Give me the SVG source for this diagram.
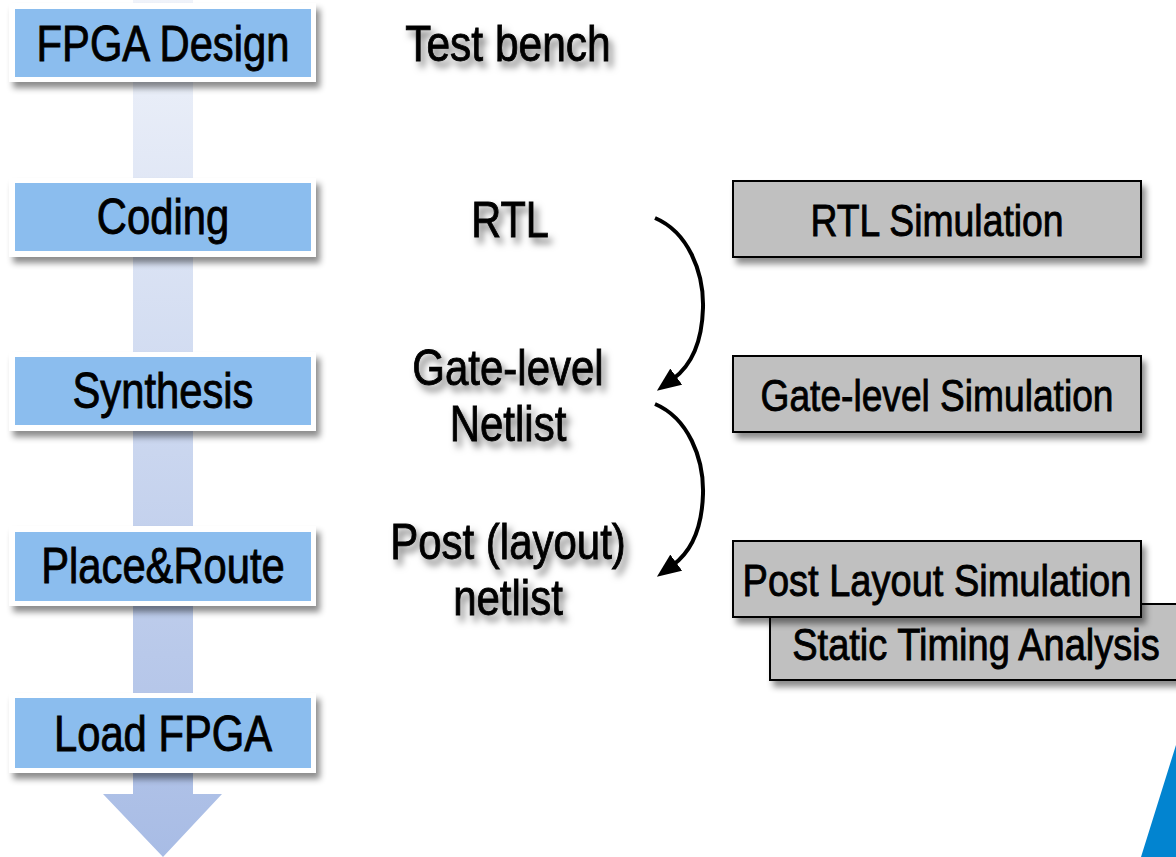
<svg xmlns="http://www.w3.org/2000/svg" width="1176" height="857" viewBox="0 0 1176 857">
  <defs>
    <linearGradient id="flowGrad" x1="0" y1="0" x2="0" y2="1">
      <stop offset="0" stop-color="#f0f3fa"/>
      <stop offset="1" stop-color="#a8bce5"/>
    </linearGradient>
    <filter id="boxShadow" x="-10%" y="-20%" width="125%" height="150%">
      <feDropShadow dx="4" dy="6" stdDeviation="3" flood-color="#000" flood-opacity="0.45"/>
    </filter>
    <filter id="textShadow" x="-10%" y="-20%" width="130%" height="170%">
      <feDropShadow dx="4" dy="6" stdDeviation="3.5" flood-color="#000" flood-opacity="0.5"/>
    </filter>
    <marker id="arrowHead" viewBox="0 0 12 10" refX="2" refY="5" markerWidth="6" markerHeight="5" orient="auto" markerUnits="strokeWidth">
      <path d="M0,0 L12,5 L0,10 Z" fill="#000"/>
    </marker>
    <style>
      .t { font-family: "Liberation Sans", Arial, sans-serif; fill: #000; stroke: #000; stroke-width: 0.9; text-anchor: middle; }
      .step-frame { fill: #fff; }
      .step-fill { fill: #8bbdee; }
      .step-text { font-size: 50px; }
      .label { font-size: 50px; }
      .sim-text { font-size: 45px; }
      .sim { fill: #c0c0c0; stroke: #000; stroke-width: 2; }
      .curl { fill: none; stroke: #000; stroke-width: 4; }
    </style>
  </defs>

  <rect width="1176" height="857" fill="#fff"/>

  <!-- flow column arrow -->
  <g id="flow-arrow">
    <path d="M133,0 H193 V794 H222 L163,857 L103,794 H133 Z" fill="url(#flowGrad)"/>
  </g>

  <!-- design flow steps (text narrowed horizontally) -->
  <g id="step-fpga-design">
    <rect class="step-frame" x="9" y="3" width="307" height="79" filter="url(#boxShadow)"/>
    <rect class="step-fill" x="15" y="9" width="296" height="68"/>
    <text class="t step-text" transform="translate(163,61) scale(0.835,1)">FPGA Design</text>
  </g>
  <g id="step-coding">
    <rect class="step-frame" x="9" y="178" width="307" height="79" filter="url(#boxShadow)"/>
    <rect class="step-fill" x="15" y="183" width="296" height="68"/>
    <text class="t step-text" transform="translate(163,234) scale(0.835,1)">Coding</text>
  </g>
  <g id="step-synthesis">
    <rect class="step-frame" x="9" y="352" width="307" height="79" filter="url(#boxShadow)"/>
    <rect class="step-fill" x="15" y="357" width="296" height="68"/>
    <text class="t step-text" transform="translate(163,408) scale(0.835,1)">Synthesis</text>
  </g>
  <g id="step-place-route">
    <rect class="step-frame" x="9" y="526" width="307" height="80" filter="url(#boxShadow)"/>
    <rect class="step-fill" x="15" y="532" width="296" height="69"/>
    <text class="t step-text" transform="translate(163,583) scale(0.835,1)">Place&amp;Route</text>
  </g>
  <g id="step-load-fpga">
    <rect class="step-frame" x="9" y="693" width="307" height="80" filter="url(#boxShadow)"/>
    <rect class="step-fill" x="15" y="698" width="296" height="70"/>
    <text class="t step-text" transform="translate(163,751) scale(0.835,1)">Load FPGA</text>
  </g>

  <!-- artefact labels -->
  <g id="label-test-bench" filter="url(#textShadow)">
    <text class="t label" transform="translate(508,61) scale(0.85,1)">Test bench</text>
  </g>
  <g id="label-rtl" filter="url(#textShadow)">
    <text class="t label" transform="translate(510,237) scale(0.83,1)">RTL</text>
  </g>
  <g id="label-gate-netlist" filter="url(#textShadow)">
    <text class="t label" transform="translate(508,385) scale(0.84,1)">Gate-level</text>
    <text class="t label" transform="translate(508,441) scale(0.84,1)">Netlist</text>
  </g>
  <g id="label-post-netlist" filter="url(#textShadow)">
    <text class="t label" transform="translate(508,559) scale(0.84,1)">Post (layout)</text>
    <text class="t label" transform="translate(508,615) scale(0.84,1)">netlist</text>
  </g>

  <!-- connectors -->
  <g id="connectors">
    <path class="curl" d="M655,218 C688,232 704,272 703,308 C702,342 692,365 673,379" marker-end="url(#arrowHead)"/>
    <path class="curl" d="M655,404 C688,418 704,458 703,494 C702,528 692,551 673,565" marker-end="url(#arrowHead)"/>
  </g>

  <!-- verification steps -->
  <g id="sim-rtl">
    <rect class="sim" x="733" y="181" width="408" height="76" filter="url(#boxShadow)"/>
    <text class="t sim-text" transform="translate(937,236) scale(0.83,1)">RTL Simulation</text>
  </g>
  <g id="sim-gate">
    <rect class="sim" x="733" y="356" width="408" height="76" filter="url(#boxShadow)"/>
    <text class="t sim-text" transform="translate(937,411) scale(0.825,1)">Gate-level Simulation</text>
  </g>
  <g id="sta">
    <rect class="sim" x="770" y="604" width="420" height="76" filter="url(#boxShadow)"/>
    <text class="t sim-text" transform="translate(976,660) scale(0.845,1)">Static Timing Analysis</text>
  </g>
  <g id="sim-post-layout">
    <rect class="sim" x="733" y="541" width="408" height="76" filter="url(#boxShadow)"/>
    <text class="t sim-text" transform="translate(937,596) scale(0.845,1)">Post Layout Simulation</text>
  </g>

  <!-- corner accent -->
  <polygon points="1176,745 1141,857 1176,857" fill="#0284d0"/>
</svg>
